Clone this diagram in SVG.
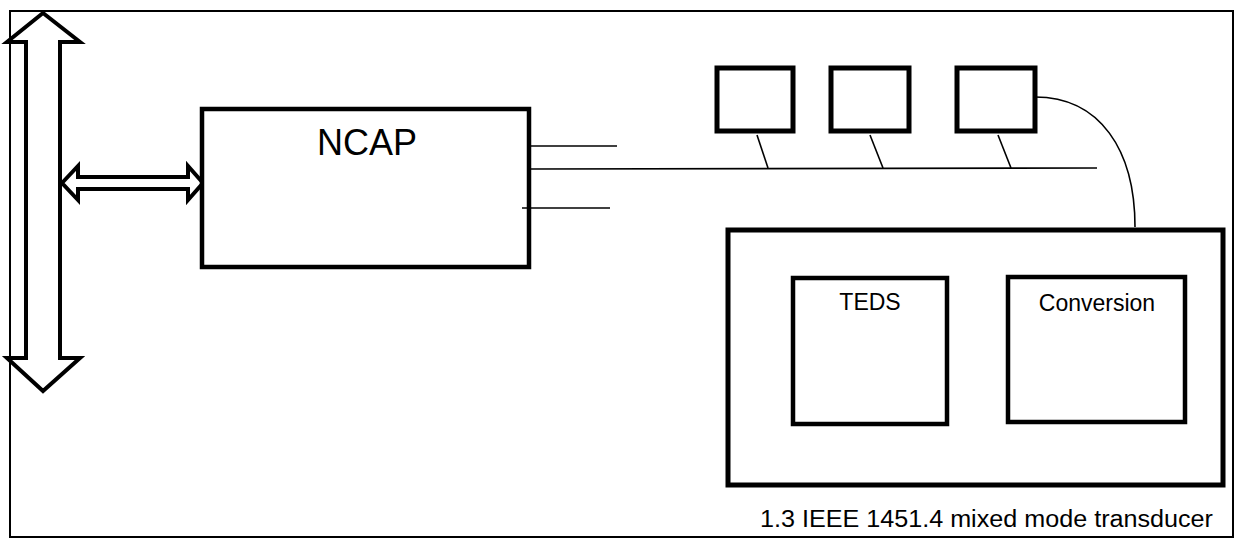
<svg xmlns="http://www.w3.org/2000/svg" width="1236" height="539" viewBox="0 0 1236 539">
<style>
.box{fill:#fff;stroke:#000;stroke-width:4.5}
.thick{fill:#fff;stroke:#000;stroke-width:5}
.ln{fill:none;stroke:#000;stroke-width:1.6}
.arrow{fill:#fff;stroke:#000;stroke-width:4;stroke-linejoin:miter}
text{font-family:"Liberation Sans",Arial,sans-serif;fill:#000}
</style>
<rect x="0" y="0" width="1236" height="539" fill="#fff"/>
<rect id="frame" x="10" y="11" width="1223" height="526" fill="none" stroke="#000" stroke-width="2"/>
<g id="bus-arrow">
<polygon class="arrow" points="43,13 80,42 60,42 60,358 80,358 43,391 7,358 26,358 26,42 7,42"/>
</g>
<g id="link-arrow">
<polygon class="arrow" stroke-width="3.5" points="62,183 78,166 78,177 188,177 188,166 203,183 188,200 188,189 78,189 78,200"/>
</g>
<g id="ncap">
<rect class="box" x="202" y="109" width="327" height="158"/>
<text x="367" y="155" font-size="36" text-anchor="middle">NCAP</text>
</g>
<g id="connectors">
<line class="ln" x1="529" y1="146" x2="617" y2="146"/>
<line class="ln" x1="529" y1="169" x2="1097" y2="168"/>
<line class="ln" x1="522" y1="208" x2="610" y2="208"/>
<line class="ln" x1="757" y1="135" x2="768" y2="168"/>
<line class="ln" x1="870" y1="135" x2="883" y2="168"/>
<line class="ln" x1="998" y1="135" x2="1011" y2="168"/>
<path class="ln" d="M1035,97 C1100,97 1135,150 1135,227"/>
</g>
<g id="node1"><rect class="thick" x="717" y="68" width="76" height="63"/></g>
<g id="node2"><rect class="thick" x="831" y="68" width="78" height="63"/></g>
<g id="node3"><rect class="thick" x="957" y="68" width="78" height="63"/></g>
<g id="transducer">
<rect class="thick" x="728" y="230" width="495" height="255"/>
<text x="1213" y="527" font-size="23" text-anchor="end" textLength="453" lengthAdjust="spacingAndGlyphs">1.3 IEEE 1451.4 mixed mode transducer</text>
</g>
<g id="teds">
<rect class="box" x="793" y="278" width="154" height="146"/>
<text x="870" y="310" font-size="23" text-anchor="middle">TEDS</text>
</g>
<g id="conversion">
<rect class="box" x="1008" y="277" width="177" height="145"/>
<text x="1097" y="311" font-size="23" text-anchor="middle">Conversion</text>
</g>
</svg>
